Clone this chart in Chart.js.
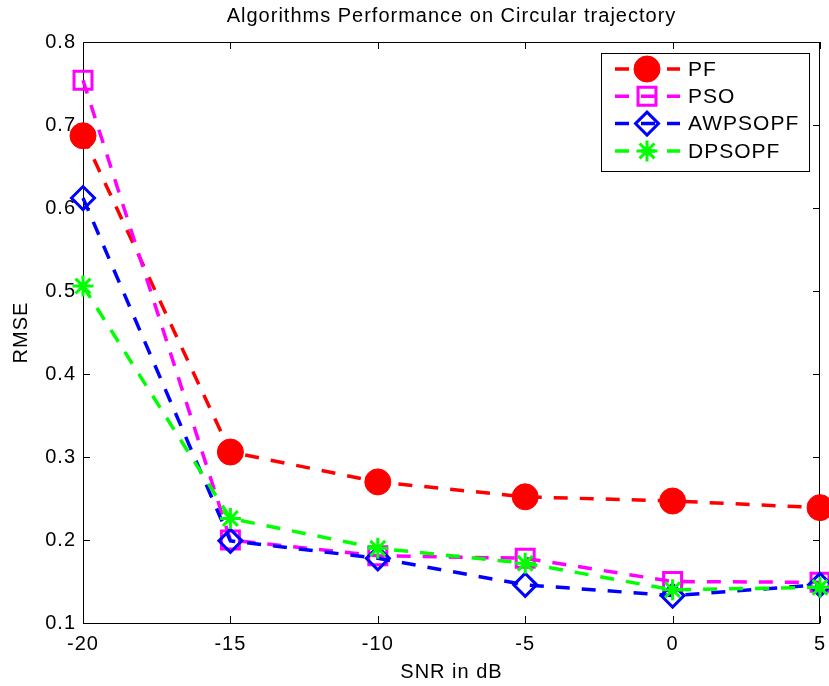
<!DOCTYPE html>
<html>
<head>
<meta charset="utf-8">
<script src="https://cdn.jsdelivr.net/npm/chart.js@4/dist/chart.umd.min.js"></script>
<style>
  body { margin: 0; background: #fff; }
  canvas { display: block; }
</style>
</head>
<body>
<canvas id="perfChart" width="829" height="686"></canvas>
<script>
// values
var snr = [-20, -15, -10, -5, 0, 5]
var pf = [0.687, 0.306, 0.270, 0.252, 0.247, 0.239]
var pso = [0.754, 0.200, 0.181, 0.178, 0.150, 0.149]
var awpsopf = [0.612, 0.199, 0.178, 0.146, 0.133, 0.146]
var dpsopf = [0.506, 0.226, 0.190, 0.172, 0.140, 0.143]
var xTicks = [-20, -15, -10, -5, 0, 5]
var yTicks = [0.1, 0.2, 0.3, 0.4, 0.5, 0.6, 0.7, 0.8]

var FONT = "'Liberation Sans', Arial, Helvetica, sans-serif"

function pts(ys){
    var out = []
    for (var i = 0; i < snr.length; i++) out.push({x: snr[i], y: ys[i]})
    return out
}

function series(label, ys, color, style, radius, filled, order){
    return {
        label: label,
        data: pts(ys),
        borderColor: color,
        backgroundColor: color,
        borderWidth: 3.5,
        borderDash: [14, 12],
        pointStyle: style,
        pointRadius: radius,
        pointHoverRadius: radius,
        pointBackgroundColor: filled ? color : 'rgba(0,0,0,0)',
        pointBorderColor: color,
        pointBorderWidth: filled ? 1 : 3,
        tension: 0,
        clip: false,
        order: order
    }
}

// plain marker painter for the legend
function marker(ctx, ds, x, y){
    var r = ds.pointRadius
    ctx.save()
    ctx.setLineDash([])
    ctx.strokeStyle = ds.pointBorderColor
    ctx.fillStyle = ds.pointBackgroundColor
    ctx.lineWidth = ds.pointBorderWidth
    ctx.beginPath()
    if (ds.pointStyle == 'circle') {
        ctx.arc(x, y, r, 0, Math.PI * 2)
        ctx.fill(); ctx.stroke()
    } else if (ds.pointStyle == 'rect') {
        var s = r * Math.SQRT1_2
        ctx.rect(x - s, y - s, 2 * s, 2 * s)
        ctx.stroke()
    } else if (ds.pointStyle == 'rectRot') {
        ctx.moveTo(x, y - r); ctx.lineTo(x + r, y); ctx.lineTo(x, y + r); ctx.lineTo(x - r, y); ctx.closePath()
        ctx.stroke()
    } else {
        for (var k = 0; k < 4; k++) {
            var a = k * Math.PI / 4
            ctx.moveTo(x - r * Math.cos(a), y - r * Math.sin(a))
            ctx.lineTo(x + r * Math.cos(a), y + r * Math.sin(a))
        }
        ctx.stroke()
    }
    ctx.restore()
}

var spacing = {
    id: 'spacing',
    beforeInit: function(chart){ chart.ctx.letterSpacing = '1px' },
    beforeDraw: function(chart){ chart.ctx.letterSpacing = '1px' }
}

// matlab style box with inward ticks
var axesBox = {
    id: 'axesBox',
    beforeDatasetsDraw: function(chart){
        var ctx = chart.ctx, a = chart.chartArea
        var xs = chart.scales.x, ys = chart.scales.y
        ctx.save()
        ctx.strokeStyle = '#000'
        ctx.lineWidth = 1
        ctx.setLineDash([])
        ctx.strokeRect(a.left + 0.5, a.top + 0.5, a.right - a.left - 1, a.bottom - a.top)
        ctx.beginPath()
        xTicks.forEach(function(v){
            var px = Math.round(xs.getPixelForValue(v)) + 0.5
            ctx.moveTo(px, a.bottom); ctx.lineTo(px, a.bottom - 7)
            ctx.moveTo(px, a.top); ctx.lineTo(px, a.top + 7)
        })
        yTicks.forEach(function(v){
            var py = Math.round(ys.getPixelForValue(v)) + 0.5
            ctx.moveTo(a.left, py); ctx.lineTo(a.left + 7, py)
            ctx.moveTo(a.right, py); ctx.lineTo(a.right - 7, py)
        })
        ctx.stroke()
        ctx.restore()
    }
}

var boxLegend = {
    id: 'boxLegend',
    afterDraw: function(chart){
        var ctx = chart.ctx, a = chart.chartArea
        var w = 208, h = 118
        var left = a.right - 11 - w, top = a.top + 11
        ctx.save()
        ctx.fillStyle = '#fff'
        ctx.fillRect(left, top, w, h)
        ctx.strokeStyle = '#000'
        ctx.lineWidth = 1
        ctx.strokeRect(left + 0.5, top + 0.5, w, h)
        chart.data.datasets.forEach(function(ds, i){
            var y = top + 16 + i * 27.3
            ctx.strokeStyle = ds.borderColor
            ctx.lineWidth = ds.borderWidth
            ctx.setLineDash(ds.borderDash)
            ctx.beginPath()
            ctx.moveTo(left + 14, y); ctx.lineTo(left + 79, y)
            ctx.stroke()
            marker(ctx, ds, left + 46, y)
            ctx.fillStyle = '#000'
            ctx.font = '21px ' + FONT
            ctx.textAlign = 'left'
            ctx.textBaseline = 'middle'
            ctx.fillText(ds.label, left + 87, y + 1)
        })
        ctx.restore()
    }
}

var ctx = document.getElementById('perfChart').getContext('2d')
var chart = new Chart(ctx, {
    type: 'line',
    data: {
        datasets: [
            series('PF', pf, '#ff0000', 'circle', 13, true, 3),
            series('PSO', pso, '#ff00ff', 'rect', 12.7, false, 2),
            series('AWPSOPF', awpsopf, '#0000ff', 'rectRot', 11.5, false, 1),
            series('DPSOPF', dpsopf, '#00ff00', 'star', 10.5, false, 0)
        ]
    },
    options: {
        responsive: false,
        devicePixelRatio: 1,
        animation: false,
        layout: { autoPadding: false, padding: { left: 0, right: 9, top: 0, bottom: 0 } },
        plugins: {
            legend: { display: false },
            tooltip: { enabled: false },
            title: {
                display: true,
                text: 'Algorithms Performance on Circular trajectory',
                color: '#000',
                font: { family: FONT, size: 20, weight: 'normal' },
                padding: { top: 4, bottom: 14 },
                fullSize: false
            }
        },
        scales: {
            x: {
                type: 'linear',
                min: -20,
                max: 5,
                grid: { display: false, drawTicks: false },
                border: { display: false },
                afterBuildTicks: function(scale){
                    scale.ticks = xTicks.map(function(v){ return {value: v} })
                },
                afterFit: function(scale){
                    scale.height = 63
                    scale.paddingLeft = 0
                    scale.paddingRight = 0
                },
                ticks: {
                    color: '#000',
                    padding: 9,
                    maxRotation: 0,
                    font: { family: FONT, size: 20 },
                    callback: function(v){ return String(v) }
                },
                title: {
                    display: true,
                    text: 'SNR in dB',
                    color: '#000',
                    font: { family: FONT, size: 20 },
                    padding: 2
                }
            },
            y: {
                min: 0.1,
                max: 0.8,
                grid: { display: false, drawTicks: false },
                border: { display: false },
                afterBuildTicks: function(scale){
                    scale.ticks = yTicks.map(function(v){ return {value: v} })
                },
                afterFit: function(scale){
                    scale.width = 83
                    scale.paddingTop = 0
                    scale.paddingBottom = 0
                },
                ticks: {
                    color: '#000',
                    padding: 7,
                    font: { family: FONT, size: 20 },
                    callback: function(v){ return Number(v).toFixed(1) }
                },
                title: {
                    display: true,
                    text: 'RMSE',
                    color: '#000',
                    font: { family: FONT, size: 20 },
                    padding: 9
                }
            }
        }
    },
    plugins: [spacing, axesBox, boxLegend]
})
</script>
</body>
</html>
